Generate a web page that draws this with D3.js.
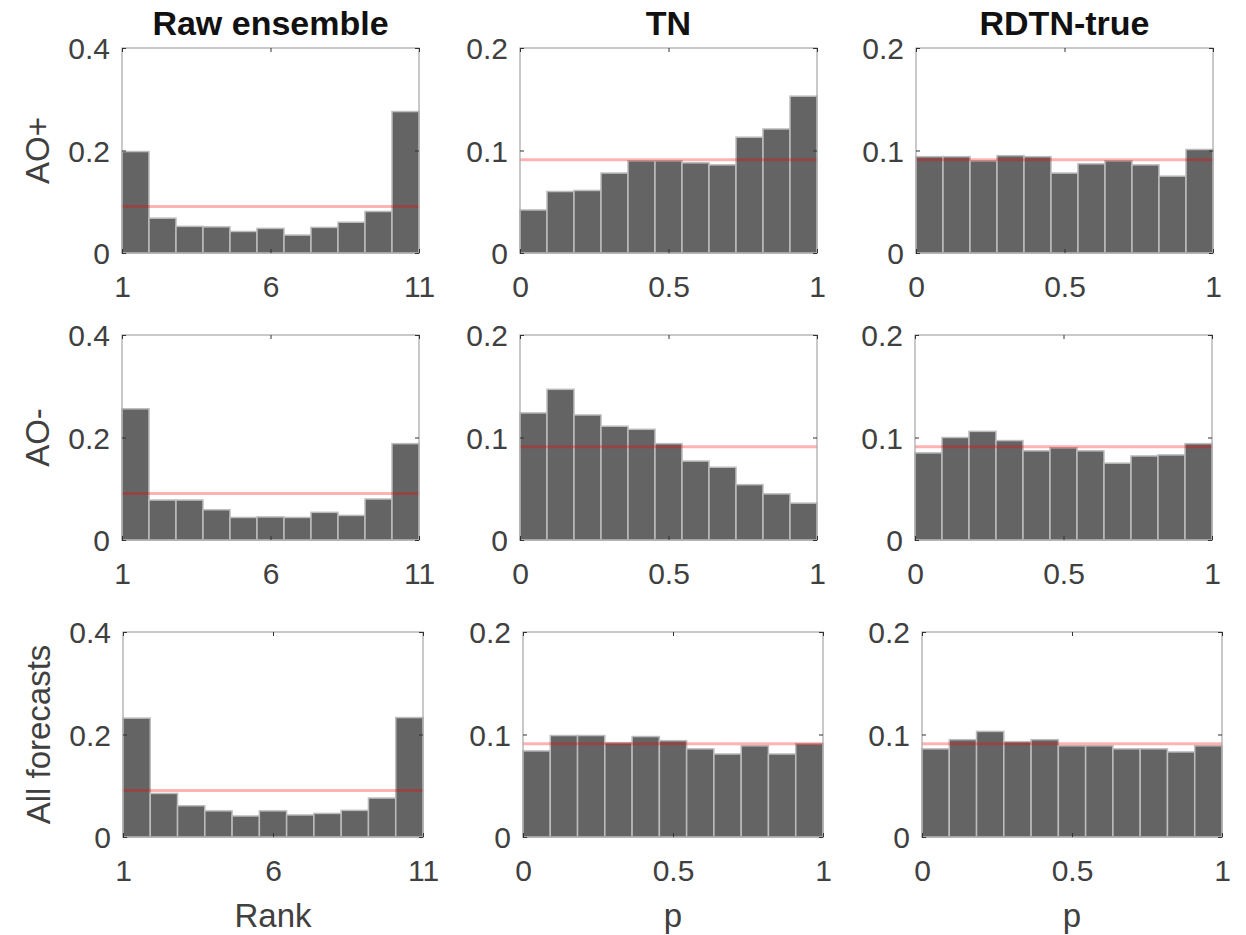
<!DOCTYPE html>
<html>
<head>
<meta charset="utf-8">
<script src="https://cdn.jsdelivr.net/npm/d3@7"></script>
<style>
    body { margin: 0; background: #fff; }
    text { font-family: "Liberation Sans", Arial, Helvetica, sans-serif; }
</style>
</head>
<body>
<div id="chart"></div>
<script>
// column titles and row labels
let colTitles = ["Raw ensemble", "TN", "RDTN-true"];
let rowLabels = ["AO+", "AO-", "All forecasts"];
let xLabels = ["Rank", "p", "p"];

// x domains / tick labels per column
let xDomains = [[1, 11], [0, 1], [0, 1]];
let xTicks = [[1, 6, 11], [0, 0.5, 1], [0, 0.5, 1]];
let yMax = [0.4, 0.2, 0.2];
let yTicks = [[0, 0.2, 0.4], [0, 0.1, 0.2], [0, 0.1, 0.2]];
let uniformLevel = 1 / 11;

// relative frequencies (11 bins each)
let rawAOplus  = [0.198, 0.068, 0.052, 0.051, 0.042, 0.048, 0.035, 0.050, 0.060, 0.081, 0.276];
let tnAOplus   = [0.042, 0.060, 0.061, 0.078, 0.090, 0.090, 0.088, 0.086, 0.113, 0.121, 0.153];
let rdtnAOplus = [0.094, 0.094, 0.090, 0.095, 0.094, 0.078, 0.087, 0.090, 0.086, 0.075, 0.101];

let rawAOminus  = [0.256, 0.078, 0.078, 0.059, 0.044, 0.045, 0.044, 0.054, 0.048, 0.080, 0.188];
let tnAOminus   = [0.124, 0.147, 0.122, 0.111, 0.108, 0.094, 0.077, 0.071, 0.054, 0.045, 0.036];
let rdtnAOminus = [0.085, 0.100, 0.106, 0.097, 0.087, 0.090, 0.087, 0.075, 0.082, 0.083, 0.094];

let rawAll  = [0.232, 0.085, 0.061, 0.051, 0.041, 0.051, 0.043, 0.046, 0.052, 0.076, 0.233];
let tnAll   = [0.084, 0.099, 0.099, 0.092, 0.098, 0.094, 0.086, 0.081, 0.089, 0.081, 0.091];
let rdtnAll = [0.086, 0.095, 0.103, 0.093, 0.095, 0.089, 0.089, 0.086, 0.086, 0.083, 0.089];

let panelData = [
    [rawAOplus, tnAOplus, rdtnAOplus],
    [rawAOminus, tnAOminus, rdtnAOminus],
    [rawAll, tnAll, rdtnAll]
];

// panel layout (pixels)
let rowTops = [48, 335, 632];
let rowLefts = [[122, 520, 916], [122, 520, 915], [123, 523, 922]];
let rowWidths = [297, 297, 300];
let panelH = 205;

let svg = d3.select("#chart").append("svg")
    .attr("width", 1246)
    .attr("height", 935);

let fmt = d => d === 0 ? "0" : String(d);

panelData.forEach((row, r) => {
    row.forEach((vals, c) => {
        let w = rowWidths[r];
        let g = svg.append("g")
            .attr("transform", `translate(${rowLefts[r][c]}, ${rowTops[r]})`);

        let x = d3.scaleLinear().domain(xDomains[c]).range([0, w]);
        let y = d3.scaleLinear().domain([0, yMax[c]]).range([panelH, 0]);

        let lo = xDomains[c][0], hi = xDomains[c][1];
        let step = (hi - lo) / vals.length;

        // bars
        g.selectAll(".bar")
            .data(vals)
            .enter()
            .append("rect")
            .attr("class", "bar")
            .attr("x", (d, i) => x(lo + i * step))
            .attr("width", x(lo + step) - x(lo))
            .attr("y", d => y(d))
            .attr("height", d => panelH - y(d))
            .attr("fill", "#646464")
            .attr("stroke", "#bcbcbc")
            .attr("stroke-width", 1.5);

        // uniform reference line
        g.append("line")
            .attr("x1", 0).attr("x2", w)
            .attr("y1", y(uniformLevel)).attr("y2", y(uniformLevel))
            .attr("stroke", "#ff0000")
            .attr("stroke-opacity", 0.3)
            .attr("stroke-width", 3);

        // box
        g.append("rect")
            .attr("width", w).attr("height", panelH)
            .attr("fill", "none")
            .attr("stroke", "#a6a6a6")
            .attr("stroke-width", 1.2);

        // axes (ticks inside)
        let xAxis = d3.axisBottom(x).tickValues(xTicks[c]).tickSize(-4).tickPadding(23).tickFormat(fmt);
        let yAxis = d3.axisLeft(y).tickValues(yTicks[c]).tickSize(-4).tickPadding(12).tickFormat(fmt);

        let gx = g.append("g").attr("transform", `translate(0, ${panelH})`).call(xAxis);
        let gy = g.append("g").call(yAxis);
        // mirrored ticks on top / right
        g.append("g").call(d3.axisTop(x).tickValues(xTicks[c]).tickSize(-4).tickFormat(""));
        g.append("g").attr("transform", `translate(${w}, 0)`)
            .call(d3.axisRight(y).tickValues(yTicks[c]).tickSize(-4).tickFormat(""));

        g.selectAll(".domain").attr("stroke", "none");
        g.selectAll(".tick line").attr("stroke", "#333");
        [gx, gy].forEach(a => a.selectAll("text")
            .attr("font-size", 30)
            .attr("fill", "#404040"));
        gx.selectAll("text").attr("dy", "0.71em");
        gy.selectAll("text").attr("dy", "0.36em");

        // column title
        if (r === 0) {
            g.append("text")
                .text(colTitles[c])
                .attr("x", w / 2)
                .attr("y", -13)
                .attr("text-anchor", "middle")
                .attr("font-size", 34)
                .attr("font-weight", "bold")
                .attr("fill", "#111");
        }

        // row label
        if (c === 0) {
            g.append("text")
                .text(rowLabels[r])
                .attr("transform", `translate(-73, ${panelH / 2}) rotate(-90)`)
                .attr("text-anchor", "middle")
                .attr("font-size", 33)
                .attr("fill", "#404040");
        }

        // x label
        if (r === 2) {
            g.append("text")
                .text(xLabels[c])
                .attr("x", w / 2)
                .attr("y", panelH + 90)
                .attr("text-anchor", "middle")
                .attr("font-size", 33)
                .attr("fill", "#404040");
        }
    });
});
</script>
</body>
</html>
